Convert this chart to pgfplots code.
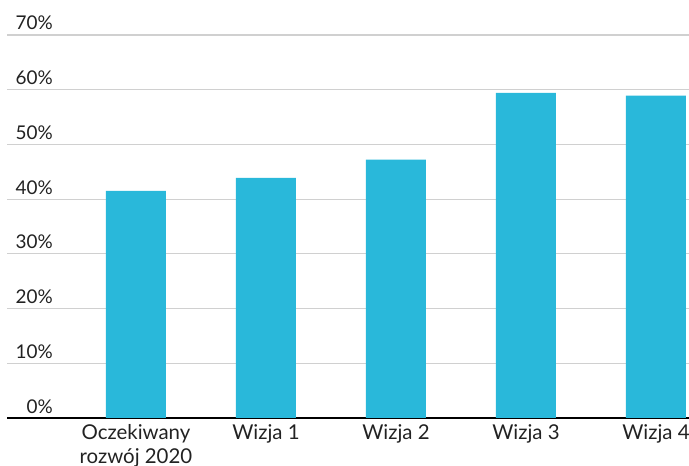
\documentclass[border=0pt]{standalone}
\usepackage{pgfplots}
\pgfplotsset{compat=1.18}
\usepackage{fontspec}
\setmainfont{Lato}
\usetikzlibrary{calc}

\definecolor{barblue}{RGB}{41,184,218}
\definecolor{gridgray}{RGB}{208,208,208}
\definecolor{textdark}{RGB}{34,34,34}

\begin{document}
\begin{tikzpicture}
\begin{axis}[
    scale only axis,
    width=682bp, height=383bp,
    xmin=-0.992, xmax=4.254,
    ymin=0, ymax=70,
    axis x line*=bottom,
    axis y line*=left,
    x axis line style={black, line width=1.2bp},
    y axis line style={draw=none},
    major tick length=0pt,
    ytick={0,10,...,70},
    yticklabels={0\%,10\%,20\%,30\%,40\%,50\%,60\%,70\%},
    yticklabel style={anchor=base east, inner sep=0pt, xshift=46bp, yshift=5bp,
        font=\fontsize{19}{23}\selectfont},
    ymajorgrids,
    major grid style={gridgray, line width=1.2bp},
    xtick={0,1,2,3,4},
    xticklabels={{Oczekiwany\\rozwój 2020},Wizja 1,Wizja 2,Wizja 3,Wizja 4},
    xticklabel style={anchor=north, align=center, inner sep=0pt, yshift=-6bp,
        font=\fontsize{20.5}{24}\selectfont},
    ticklabel style={text=textdark},
    ybar, bar width=60bp,
]
\addplot[fill=barblue, draw=none] coordinates {
    (0,41.5) (1,43.9) (2,47.2) (3,59.4) (4,58.9)
};
\end{axis}
\pgfresetboundingbox
\path ($(current axis.south west)+(-7bp,-48bp)$) rectangle ($(current axis.north east)+(0bp,35bp)$);
\end{tikzpicture}
\end{document}
